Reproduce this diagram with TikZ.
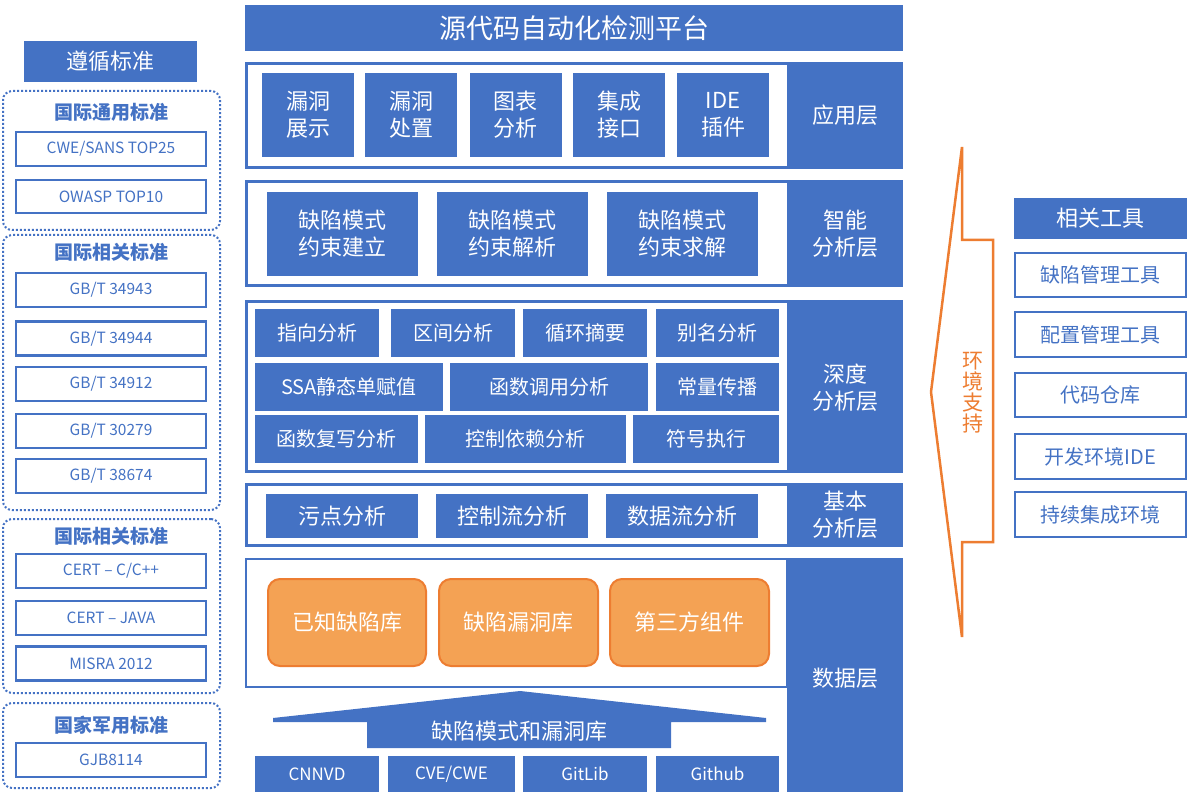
\documentclass[tikz,border=0pt]{standalone}
\usepackage{fontspec}
\setmainfont{Noto Sans CJK SC}
\usepackage{tikz}
\usetikzlibrary{positioning}
\definecolor{mainblue}{RGB}{68, 114, 196}
\definecolor{accentorange}{RGB}{237, 125, 49}
\definecolor{liborange}{RGB}{244, 162, 84}

\begin{document}
\begin{tikzpicture}[
    x=1pt, y=-1pt,
    wh/.style 2 args={minimum width=#1pt, minimum height=#2pt},
    layer/.style={rectangle, fill=mainblue, inner sep=0pt, outer sep=0pt},
    panel/.style={rectangle, fill=white, inner sep=0pt, outer sep=0pt},
    blk/.style={rectangle, fill=mainblue, text=white, inner sep=0pt, align=center, font=\fontsize{22}{27}\selectfont},
    cell/.style={blk, font=\fontsize{20}{24}\selectfont},
    src/.style={blk, font=\fontsize{17}{20}\selectfont},
    tag/.style={text=white, align=center, font=\fontsize{22}{27}\selectfont},
    std/.style={rectangle, draw=mainblue, line width=2.8pt, fill=white, text=mainblue, inner sep=0pt, font=\fontsize{15.5}{18}\selectfont},
    tool/.style={std, font=\fontsize{20}{24}\selectfont},
    grp/.style={rectangle, draw=mainblue, line width=2pt, dotted, rounded corners=9pt, inner sep=0pt},
    grptitle/.style={text=mainblue, font=\fontsize{19}{22}\selectfont\bfseries},
    lib/.style={rectangle, rounded corners=12pt, fill=liborange, draw=accentorange, line width=2pt, text=white, inner sep=0pt, font=\fontsize{22}{26}\selectfont}
]
    \useasboundingbox (0, 0) rectangle (1189, 794);

    % Standards column
    \node[layer, tag, wh={173}{41}] (stdhead) at (110.5, 61.5) {遵循标准};

    \node[grp, wh={217}{139}] (grpcommon) at (111.5, 160.5) {};
    \node[grptitle] (titlecommon) at (111.5, 112) {国际通用标准};
    \node[std, wh={190}{34}] (cwe) at (111, 149) {CWE/SANS TOP25};
    \node[std, wh={190}{33}] (owasp) at (111, 196.5) {OWASP TOP10};

    \node[grp, wh={217}{275}] (grpnational) at (111.5, 372.5) {};
    \node[grptitle] (titlenational) at (111.5, 252) {国际相关标准};
    \node[std, wh={190}{34}] (gb1) at (111, 290) {GB/T 34943};
    \node[std, wh={190}{34}] (gb2) at (111, 338.5) {GB/T 34944};
    \node[std, wh={190}{34}] (gb3) at (111, 384) {GB/T 34912};
    \node[std, wh={190}{34}] (gb4) at (111, 431) {GB/T 30279};
    \node[std, wh={190}{34}] (gb5) at (111, 476) {GB/T 38674};

    \node[grp, wh={217}{174}] (grpcoding) at (111.5, 606) {};
    \node[grptitle] (titlecoding) at (111.5, 536) {国际相关标准};
    \node[std, wh={190}{34}] (certc) at (111, 571) {CERT -- C/C++};
    \node[std, wh={190}{34}] (certj) at (111, 618) {CERT -- JAVA};
    \node[std, wh={190}{34}] (misra) at (111, 663.5) {MISRA 2012};

    \node[grp, wh={217}{85}] (grpmilitary) at (111.5, 745.5) {};
    \node[grptitle] (titlemilitary) at (111.5, 725) {国家军用标准};
    \node[std, wh={190}{34}] (gjb) at (111, 760) {GJB8114};

    % Platform title
    \node[layer, tag, wh={658}{46}, font=\fontsize{27}{31}\selectfont] (platform) at (574, 28) {源代码自动化检测平台};

    % Application layer
    \node[layer, wh={658}{107}] (applayer) at (574, 115.5) {};
    \node[panel, wh={539}{101}] (apppanel) at (517.5, 115.5) {};
    \node[tag] (applabel) at (845, 115.5) {应用层};
    \node[blk, wh={92}{84}] (show) at (308, 115) {漏洞\\展示};
    \node[blk, wh={92}{84}] (handle) at (411, 115) {漏洞\\处置};
    \node[blk, wh={92}{84}] (chart) at (515.5, 115) {图表\\分析};
    \node[blk, wh={92}{84}] (iface) at (619, 115) {集成\\接口};
    \node[blk, wh={92}{84}] (plugin) at (723, 115) {IDE\\插件};

    % Smart analysis layer
    \node[layer, wh={658}{107}] (smartlayer) at (574, 233.5) {};
    \node[panel, wh={539}{101}] (smartpanel) at (517.5, 233.5) {};
    \node[tag] (smartlabel) at (845, 233.5) {智能\\分析层};
    \node[blk, wh={151}{84}] (build) at (342.5, 234) {缺陷模式\\约束建立};
    \node[blk, wh={151}{84}] (parse) at (512.5, 234) {缺陷模式\\约束解析};
    \node[blk, wh={151}{84}] (solve) at (682, 234) {缺陷模式\\约束求解};

    % Deep analysis layer
    \node[layer, wh={658}{173}] (deeplayer) at (574, 386.5) {};
    \node[panel, wh={539}{167}] (deeppanel) at (517.5, 386.5) {};
    \node[tag] (deeplabel) at (845, 388) {深度\\分析层};
    \node[cell, wh={124}{48}] (pointer) at (317, 333) {指向分析};
    \node[cell, wh={124}{48}] (interval) at (453, 333) {区间分析};
    \node[cell, wh={124}{48}] (loop) at (585, 333) {循环摘要};
    \node[cell, wh={123}{48}] (alias) at (717.5, 333) {别名分析};
    \node[cell, wh={188}{48}] (ssa) at (349, 387) {SSA静态单赋值};
    \node[cell, wh={198}{48}] (call) at (549, 387) {函数调用分析};
    \node[cell, wh={123}{48}] (const) at (717.5, 387) {常量传播};
    \node[cell, wh={163}{48}] (override) at (336.5, 439) {函数复写分析};
    \node[cell, wh={201}{48}] (ctrldep) at (525.5, 439) {控制依赖分析};
    \node[cell, wh={146}{48}] (symbolic) at (706, 439) {符号执行};

    % Basic analysis layer
    \node[layer, wh={658}{64}] (baselayer) at (574, 515) {};
    \node[panel, wh={539}{58}] (basepanel) at (517.5, 515) {};
    \node[tag] (baselabel) at (845, 515) {基本\\分析层};
    \node[blk, wh={152}{44}] (taint) at (342, 516) {污点分析};
    \node[blk, wh={152}{44}] (ctrlflow) at (512, 516) {控制流分析};
    \node[blk, wh={152}{44}] (dataflow) at (682, 516) {数据流分析};

    % Data layer
    \node[layer, wh={116}{234}] (datalayer) at (845, 675) {};
    \node[panel, draw=mainblue, line width=1.5pt, wh={541}{128}] (datapanel) at (516.5, 623) {};
    \node[tag] (datalabel) at (845, 678) {数据层};
    \node[lib, wh={158}{87}] (known) at (347, 622.5) {已知缺陷库};
    \node[lib, wh={159}{87}] (vuln) at (518.5, 622.5) {缺陷漏洞库};
    \node[lib, wh={159}{87}] (third) at (689.5, 622.5) {第三方组件};

    \fill[mainblue] (520, 691) -- (766, 718) -- (766, 722) -- (671, 722) -- (671, 748)
        -- (367, 748) -- (367, 722) -- (273, 722) -- (273, 718) -- cycle;
    \node[tag] (feed) at (519, 731) {缺陷模式和漏洞库};

    \node[src, wh={124}{36}] (cnnvd) at (317, 774) {CNNVD};
    \node[src, wh={127}{36}] (cve) at (451.5, 774) {CVE/CWE};
    \node[src, wh={124}{36}] (gitlib) at (585, 774) {GitLib};
    \node[src, wh={123}{36}] (github) at (717.5, 774) {Github};

    % Environment support
    \draw[accentorange, line width=2.5pt, line join=miter] (962, 147) -- (962, 240) -- (993, 240) -- (993, 542)
        -- (962, 542) -- (962, 637) -- (931, 392) -- cycle;
    \node[text=accentorange, align=center, font=\fontsize{21}{21}\selectfont] (env) at (973, 393) {环\\境\\支\\持};

    % Tools column
    \node[layer, tag, wh={173}{41}] (toolhead) at (1100.5, 218.5) {相关工具};
    \node[tool, wh={171}{44}] (bugtool) at (1100.5, 275) {缺陷管理工具};
    \node[tool, wh={171}{45}] (cfgtool) at (1100.5, 334.5) {配置管理工具};
    \node[tool, wh={171}{44}] (repo) at (1100.5, 395) {代码仓库};
    \node[tool, wh={171}{45}] (ide) at (1100.5, 456.5) {开发环境IDE};
    \node[tool, wh={171}{45}] (ci) at (1100.5, 514.5) {持续集成环境};

\end{tikzpicture}
\end{document}
